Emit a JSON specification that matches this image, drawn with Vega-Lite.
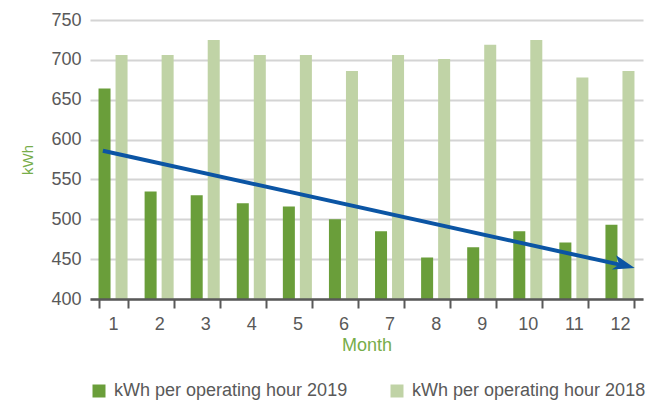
{
  "$schema": "https://vega.github.io/schema/vega-lite/v6.json",
  "width": 553,
  "height": 279,
  "autosize": "none",
  "padding": {"left": 90, "top": 20, "right": 16, "bottom": 102},
  "background": "white",
  "config": {
    "font": "Liberation Sans",
    "view": {"stroke": null}
  },
  "datasets": {
    "bars": [
      {"month": 1, "series": "kWh per operating hour 2019", "value": 664},
      {"month": 2, "series": "kWh per operating hour 2019", "value": 535},
      {"month": 3, "series": "kWh per operating hour 2019", "value": 530},
      {"month": 4, "series": "kWh per operating hour 2019", "value": 520},
      {"month": 5, "series": "kWh per operating hour 2019", "value": 516},
      {"month": 6, "series": "kWh per operating hour 2019", "value": 500},
      {"month": 7, "series": "kWh per operating hour 2019", "value": 485},
      {"month": 8, "series": "kWh per operating hour 2019", "value": 452},
      {"month": 9, "series": "kWh per operating hour 2019", "value": 465},
      {"month": 10, "series": "kWh per operating hour 2019", "value": 485},
      {"month": 11, "series": "kWh per operating hour 2019", "value": 471},
      {"month": 12, "series": "kWh per operating hour 2019", "value": 493},
      {"month": 1, "series": "kWh per operating hour 2018", "value": 706},
      {"month": 2, "series": "kWh per operating hour 2018", "value": 706},
      {"month": 3, "series": "kWh per operating hour 2018", "value": 725},
      {"month": 4, "series": "kWh per operating hour 2018", "value": 706},
      {"month": 5, "series": "kWh per operating hour 2018", "value": 706},
      {"month": 6, "series": "kWh per operating hour 2018", "value": 686},
      {"month": 7, "series": "kWh per operating hour 2018", "value": 706},
      {"month": 8, "series": "kWh per operating hour 2018", "value": 701},
      {"month": 9, "series": "kWh per operating hour 2018", "value": 719},
      {"month": 10, "series": "kWh per operating hour 2018", "value": 725},
      {"month": 11, "series": "kWh per operating hour 2018", "value": 678},
      {"month": 12, "series": "kWh per operating hour 2018", "value": 686}
    ],
    "trend": [
      {"tx": 0.78, "value": 586},
      {"tx": 12.12, "value": 441.5}
    ],
    "arrowhead": [
      {"tx": 12.32, "value": 439}
    ]
  },
  "encoding": {
    "y": {
      "field": "value",
      "type": "quantitative",
      "scale": {"domain": [400, 750], "zero": false, "nice": false},
      "axis": {
        "title": "kWh",
        "titleColor": "#77AD4A",
        "titleFontSize": 15,
        "titleFontWeight": "normal",
        "titlePadding": 15,
        "labelColor": "#595959",
        "labelFontSize": 18,
        "labelPadding": 9,
        "labelOverlap": false,
        "values": [400, 450, 500, 550, 600, 650, 700, 750],
        "ticks": false,
        "domain": false,
        "gridColor": "#D4D4D4",
        "gridWidth": 2
      }
    }
  },
  "layer": [
    {
      "data": {"name": "bars"},
      "mark": {"type": "bar", "clip": true},
      "encoding": {
        "x": {
          "field": "month",
          "type": "ordinal",
          "scale": {"paddingInner": 0.37, "paddingOuter": 0.185},
          "axis": {
            "title": "Month",
            "titleColor": "#77AD4A",
            "titleFontSize": 18,
            "titleFontWeight": "normal",
            "titlePadding": 3,
            "labelAngle": 0,
            "labelColor": "#595959",
            "labelFontSize": 18,
            "labelPadding": 7,
            "tickBand": "extent",
            "tickColor": "#595959",
            "tickWidth": 2,
            "tickSize": 9,
            "domainColor": "#595959",
            "domainWidth": 2.5,
            "grid": false,
            "zindex": 1
          }
        },
        "xOffset": {
          "field": "series",
          "type": "nominal",
          "sort": ["kWh per operating hour 2019", "kWh per operating hour 2018"],
          "scale": {"paddingInner": 0.294, "paddingOuter": 0}
        },
        "color": {
          "field": "series",
          "type": "nominal",
          "sort": ["kWh per operating hour 2019", "kWh per operating hour 2018"],
          "scale": {
            "domain": ["kWh per operating hour 2019", "kWh per operating hour 2018"],
            "range": ["#6A9E3A", "#C0D3A6"]
          },
          "legend": {
            "title": null,
            "orient": "bottom",
            "direction": "horizontal",
            "offset": 28,
            "padding": 0,
            "symbolType": "square",
            "symbolSize": 169,
            "symbolStrokeWidth": 0,
            "labelFontSize": 18,
            "labelColor": "#595959",
            "labelOffset": 6,
            "labelLimit": 400,
            "columnPadding": 40
          }
        }
      }
    },
    {
      "data": {"name": "trend"},
      "mark": {"type": "line", "color": "#0B55A4", "strokeWidth": 4, "strokeCap": "butt"},
      "encoding": {
        "x": {"field": "tx", "type": "quantitative", "scale": {"domain": [0.5, 12.5], "nice": false, "zero": false}, "axis": null}
      }
    },
    {
      "data": {"name": "arrowhead"},
      "mark": {
        "type": "point",
        "shape": "M0,0 L-1.9,-0.75 L-1.45,0 L-2,0.6 Z",
        "filled": true,
        "color": "#0B55A4",
        "opacity": 1,
        "size": 484,
        "angle": 12.5
      },
      "encoding": {
        "x": {"field": "tx", "type": "quantitative", "scale": {"domain": [0.5, 12.5], "nice": false, "zero": false}, "axis": null}
      }
    }
  ],
  "resolve": {"scale": {"x": "independent"}}
}
